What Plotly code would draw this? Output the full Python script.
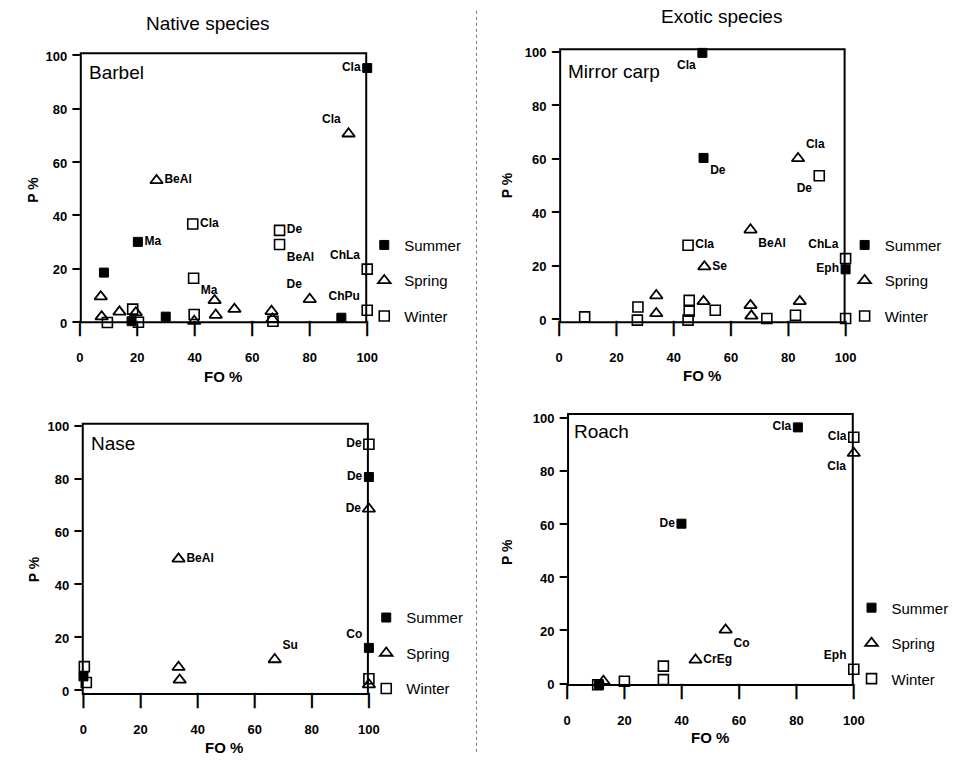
import plotly.graph_objects as go

# ---------------- DATA ----------------
# Barbel (native)
barbel_summer_x = [100, 20.2, 8.4, 29.9, 91, 18]
barbel_summer_y = [95.6, 30.5, 19, 2.5, 2.1, 0.8]
barbel_summer_lab = ["Cla", "Ma", "", "", "", ""]
barbel_spring_x = [93.5, 26.7, 80, 7.3, 7.6, 13.8, 19.5, 46.9, 47.3, 53.8, 66.7, 67, 39.8]
barbel_spring_y = [71, 53.5, 9, 10, 2.5, 4.3, 4, 8.6, 3.1, 5.3, 4.5, 1.6, 0.8]
barbel_spring_lab = ["Cla", "BeAl", "De", "", "", "", "", "", "", "", "", "", ""]
barbel_winter_x = [39.3, 69.5, 69.5, 39.6, 100, 100, 39.8, 18.4, 20.4, 9.6, 67.2]
barbel_winter_y = [37.2, 34.8, 29.5, 16.9, 20.3, 4.9, 3.3, 5.3, 0.4, 0.3, 0.8]
barbel_winter_lab = ["Cla", "De", "BeAl", "Ma", "ChLa", "ChPu", "", "", "", "", ""]

# Mirror carp (exotic)
carp_summer_x = [50, 50.4, 100]
carp_summer_y = [100, 60.7, 19]
carp_summer_lab = ["Cla", "De", "Eph"]
carp_spring_x = [83.4, 66.8, 50.7, 33.9, 33.9, 50.4, 66.8, 67.1, 84]
carp_spring_y = [60.5, 33.8, 20, 9.2, 2.5, 7, 5.5, 1.6, 7]
carp_spring_lab = ["Cla", "BeAl", "Se", "", "", "", "", "", ""]
carp_winter_x = [90.8, 45, 100, 8.9, 27.5, 27.3, 45.4, 45.4, 45, 54.5, 72.5, 82.5, 100]
carp_winter_y = [54, 28, 23, 1.2, 4.9, 0, 7.4, 3.3, 0, 3.7, 0.6, 1.8, 0.6]
carp_winter_lab = ["De", "Cla", "ChLa", "", "", "", "", "", "", "", "", "", ""]

# Nase (native)
nase_summer_x = [100, 100, 0]
nase_summer_y = [81, 16.3, 5.5]
nase_summer_lab = ["De", "Co", ""]
nase_spring_x = [100, 33.3, 67, 33.3, 33.7, 100]
nase_spring_y = [68.9, 50, 11.9, 9, 4.2, 2.4]
nase_spring_lab = ["De", "BeAl", "Su", "", "", ""]
nase_winter_x = [100, 100, 0.3, 1]
nase_winter_y = [93.4, 4.6, 9.2, 3.2]
nase_winter_lab = ["De", "", "", ""]

# Roach (exotic)
roach_summer_x = [80.5, 39.9, 11.2]
roach_summer_y = [96.7, 60.5, 0]
roach_summer_lab = ["Cla", "De", ""]
roach_spring_x = [100, 55.3, 44.8, 12.7]
roach_spring_y = [87, 20.6, 9.3, 1.3]
roach_spring_lab = ["Cla", "Co", "CrEg", ""]
roach_winter_x = [100, 100, 20, 33.6, 33.6, 10.7]
roach_winter_y = [93, 5.8, 1.3, 7, 1.9, 0]
roach_winter_lab = ["Cla", "Eph", "", "", "", ""]

x_ticks = [0, 20, 40, 60, 80, 100]
y_ticks = [0, 20, 40, 60, 80, 100]
seasons = ["Summer", "Spring", "Winter"]

# ---------------- STYLE ----------------
W, H = 958, 765
FONT = "Arial, Liberation Sans, sans-serif"
TICK_FONT = "DejaVu Sans"
BLACK = "black"
CLEAR = "rgba(0,0,0,0)"

pos = {
    ("barbel", "Summer"): ["middle left", "middle right"],
    ("barbel", "Spring"): ["top left", "middle right", "top left"],
    ("barbel", "Winter"): ["middle right", "middle right", "bottom right", "bottom right", "top left", "top left"],
    ("carp", "Summer"): ["bottom left", "bottom right", "middle left"],
    ("carp", "Spring"): ["top right", "bottom right", "middle right"],
    ("carp", "Winter"): ["bottom left", "middle right", "top left"],
    ("nase", "Summer"): ["middle left", "top left"],
    ("nase", "Spring"): ["middle left", "middle right", "top right"],
    ("nase", "Winter"): ["middle left"],
    ("roach", "Summer"): ["middle left", "middle left"],
    ("roach", "Spring"): ["bottom left", "bottom right", "middle right"],
    ("roach", "Winter"): ["middle left", "top left"],
}

markers = {
    "Summer": dict(symbol="square", size=9, color=BLACK, line=dict(color=BLACK, width=1)),
    "Spring": dict(symbol="triangle-up-open", size=11, color=BLACK, line=dict(color=BLACK, width=1.8)),
    "Winter": dict(symbol="square-open", size=10, color=BLACK, line=dict(color=BLACK, width=1.6)),
}

X_TICK_LEN, Y_TICK_LEN = 15, 8


def px_x(p):
    return p / W


def px_y(p):
    return 1 - p / H


def bold(s):
    s = str(s)
    return f"<b>{s}</b>" if s != "" else ""


panels = [
    dict(key="barbel", name="Barbel", ax="", xd=(77, 369), yd=(325, 50), yr=[0, 101.5], xr=[0, 100],
         data={"Summer": (barbel_summer_x, barbel_summer_y, barbel_summer_lab),
               "Spring": (barbel_spring_x, barbel_spring_y, barbel_spring_lab),
               "Winter": (barbel_winter_x, barbel_winter_y, barbel_winter_lab)},
         legend=(366, 229), ptitle=(84, 71), ylab=(30, 190), xlab=(222, 379)),
    dict(key="carp", name="Mirror carp", ax="2", xd=(564, 855), yd=(325, 46), yr=[-1.2, 101.7], xr=[0, 100],
         data={"Summer": (carp_summer_x, carp_summer_y, carp_summer_lab),
               "Spring": (carp_spring_x, carp_spring_y, carp_spring_lab),
               "Winter": (carp_winter_x, carp_winter_y, carp_winter_lab)},
         legend=(854, 229), ptitle=(571, 69), ylab=(511, 185), xlab=(709, 378)),
    dict(key="nase", name="Nase", ax="3", xd=(79, 370.7), yd=(702, 426), yr=[-1.5, 101.5], xr=[-0.6, 100],
         data={"Summer": (nase_summer_x, nase_summer_y, nase_summer_lab),
               "Spring": (nase_spring_x, nase_spring_y, nase_spring_lab),
               "Winter": (nase_winter_x, nase_winter_y, nase_winter_lab)},
         legend=(368, 607), ptitle=(86, 447), ylab=(30, 575), xlab=(223, 755)),
    dict(key="roach", name="Roach", ax="4", xd=(572, 863.3), yd=(693, 416), yr=[-0.5, 102.1], xr=[0, 100],
         data={"Summer": (roach_summer_x, roach_summer_y, roach_summer_lab),
               "Spring": (roach_spring_x, roach_spring_y, roach_spring_lab),
               "Winter": (roach_winter_x, roach_winter_y, roach_winter_lab)},
         legend=(861, 597), ptitle=(577, 435), ylab=(511, 557), xlab=(717, 745)),
]

fig = go.Figure()
annotations = []
layout_axes = {}

for i, p in enumerate(panels):
    ax = p["ax"]
    leg = "legend" if i == 0 else f"legend{i + 1}"
    x0r, x1r = p["xr"]
    y0r, y1r = p["yr"]

    # panel frame, drawn on the panel's own axes along the range limits
    fig.add_trace(go.Scatter(
        x=[x0r, x1r, x1r, x0r, x0r], y=[y0r, y0r, y1r, y1r, y0r], mode="lines",
        line=dict(color=BLACK, width=4), showlegend=False, hoverinfo="skip",
        xaxis="x" + ax, yaxis="y" + ax))
    # outward tick marks at the tick values (heavy box-drawing glyphs)
    fig.add_trace(go.Scatter(
        x=x_ticks, y=[y0r] * len(x_ticks), mode="text", text=["\u2503"] * len(x_ticks),
        textposition="bottom center", textfont=dict(family=TICK_FONT, size=13, color=BLACK),
        showlegend=False, hoverinfo="skip", cliponaxis=False, xaxis="x" + ax, yaxis="y" + ax))
    fig.add_trace(go.Scatter(
        x=[x0r] * len(y_ticks), y=y_ticks, mode="text", text=["\u2501"] * len(y_ticks),
        textposition="middle left", textfont=dict(family=TICK_FONT, size=12, color=BLACK),
        showlegend=False, hoverinfo="skip", cliponaxis=False, xaxis="x" + ax, yaxis="y" + ax))

    for s in seasons:
        xs, ys, labs = p["data"][s]
        tp = pos[(p["key"], s)] + ["middle right"] * (len(xs) - len(pos[(p["key"], s)]))
        fig.add_trace(go.Scatter(
            x=xs, y=ys, text=[bold(t) for t in labs], mode="markers+text", textposition=tp,
            textfont=dict(family=FONT, size=12, color=BLACK),
            marker=markers[s], name=s, legend=leg, legendgroup=f"{p['key']}{s}",
            cliponaxis=False, xaxis="x" + ax, yaxis="y" + ax, hoverinfo="x+y+text",
        ))
    tf = dict(family=FONT, size=13, color=BLACK)
    layout_axes["xaxis" + ax] = dict(
        showline=True, linecolor=CLEAR, linewidth=2,
        ticks="outside", ticklen=X_TICK_LEN, tickwidth=3, tickcolor=CLEAR,
        showgrid=False, zeroline=False, tickfont=tf, ticklabelstandoff=6,
        domain=[px_x(p["xd"][0]), px_x(p["xd"][1])], range=p["xr"],
        tickmode="array", tickvals=x_ticks, ticktext=[bold(v) for v in x_ticks],
        anchor="y" + ax)
    layout_axes["yaxis" + ax] = dict(
        showline=True, linecolor=CLEAR, linewidth=2,
        ticks="outside", ticklen=Y_TICK_LEN, tickwidth=2, tickcolor=CLEAR,
        showgrid=False, zeroline=False, tickfont=tf,
        domain=[px_y(p["yd"][0]), px_y(p["yd"][1])], range=p["yr"],
        tickmode="array", tickvals=y_ticks, ticktext=[bold(v) for v in y_ticks],
        anchor="x" + ax)
    layout_axes[leg] = dict(x=px_x(p["legend"][0]), y=px_y(p["legend"][1]), xanchor="left", yanchor="top",
                            bgcolor=CLEAR, borderwidth=0, tracegroupgap=13,
                            font=dict(family=FONT, size=15, color=BLACK), itemwidth=30)
    annotations.append(dict(text=p["name"], x=px_x(p["ptitle"][0]), y=px_y(p["ptitle"][1]),
                            xref="paper", yref="paper", xanchor="left", yanchor="middle", showarrow=False,
                            font=dict(family=FONT, size=19, color=BLACK)))
    annotations.append(dict(text="<b>P %</b>", x=px_x(p["ylab"][0]), y=px_y(p["ylab"][1]), textangle=-90,
                            xref="paper", yref="paper", xanchor="center", yanchor="middle", showarrow=False,
                            font=dict(family=FONT, size=14, color=BLACK)))
    annotations.append(dict(text="<b>FO %</b>", x=px_x(p["xlab"][0]), y=px_y(p["xlab"][1]),
                            xref="paper", yref="paper", xanchor="center", yanchor="middle", showarrow=False,
                            font=dict(family=FONT, size=15, color=BLACK)))

annotations.append(dict(text="Native species", x=px_x(207), y=px_y(21), xref="paper", yref="paper",
                        xanchor="center", yanchor="middle",
                        showarrow=False, font=dict(family=FONT, size=19, color=BLACK)))
annotations.append(dict(text="Exotic species", x=px_x(729), y=px_y(14), xref="paper", yref="paper",
                        xanchor="center", yanchor="middle",
                        showarrow=False, font=dict(family=FONT, size=19, color=BLACK)))

fig.update_layout(
    width=W, height=H, margin=dict(l=0, r=0, t=0, b=0),
    paper_bgcolor="white", plot_bgcolor="white",
    annotations=annotations,
    shapes=[dict(type="line", xref="paper", yref="paper", x0=px_x(480), x1=px_x(480),
                 y0=px_y(8), y1=px_y(762), line=dict(color="#777777", width=1, dash="dot"))],
    **layout_axes,
)

fig.write_html("out.html")
